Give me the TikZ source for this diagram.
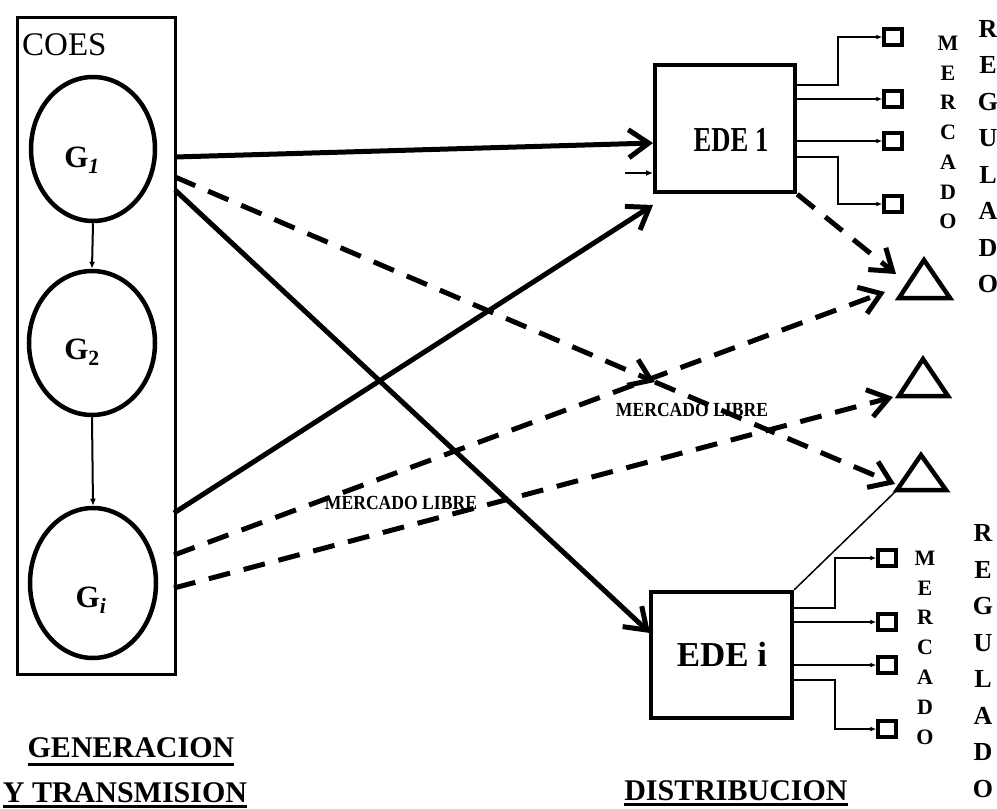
\documentclass[tikz,border=0pt]{standalone}
\usepackage{fontspec}
\setmainfont{Liberation Serif}
\usetikzlibrary{arrows.meta,shapes.geometric}
\newcommand\myul[2][-9pt]{\setbox0\hbox{#2}\rlap{\rule[#1]{\wd0}{3pt}}\box0}
\begin{document}
\begin{tikzpicture}[x=1pt,y=-1pt,
  mycoes/.style={draw, line width=3pt, inner sep=0pt},
  mygen/.style={draw, ellipse, line width=4.5pt, inner sep=0pt},
  mygl/.style={font=\fontsize{31}{34}\selectfont\bfseries, inner sep=0pt},
  myede/.style={draw, line width=4.5pt, inner sep=0pt},
  myedel/.style={font=\fontsize{35}{40}\selectfont\bfseries, inner sep=0pt},
  mysq/.style={draw, line width=3.5pt, minimum width=18pt, minimum height=16pt, inner sep=0pt},
  myarrow/.style={line width=5pt, -{Straight Barb[length=20pt,width=28pt]}},
  mydashed/.style={line width=5pt, dash pattern=on 22pt off 14pt, -{Straight Barb[length=20pt,width=28pt]}},
  mythin/.style={line width=2pt, -{Latex[length=7pt,width=6pt]}},
  myout/.style={line width=2pt, -{Latex[length=6pt,width=5pt]}},
  mytri/.style={line width=4.5pt, line join=miter},
  mylibre/.style={font=\fontsize{20}{24}\selectfont\bfseries, inner sep=0pt},
  mybig/.style={font=\fontsize{30}{36}\selectfont\bfseries, inner sep=0pt, anchor=base},
  myvm/.style={font=\fontsize{22}{29.8}\selectfont\bfseries, align=center, inner sep=0pt},
  myvr/.style={font=\fontsize{26}{36.5}\selectfont\bfseries, align=center, inner sep=0pt}
]
\useasboundingbox (0,0) rectangle (997,809);

% COES block
\node[mycoes, minimum width=158pt, minimum height=657pt, anchor=north west] (coes) at (16,16) {};
\node[anchor=base west, font=\fontsize{33}{40}\selectfont, inner sep=0pt] (coestxt) at (22,55) {COES};

\node[mygen, minimum width=124pt, minimum height=144pt] (g1) at (93,149) {};
\node[mygen, minimum width=126pt, minimum height=144pt] (g2) at (92,343) {};
\node[mygen, minimum width=126pt, minimum height=150pt] (gi) at (93,583) {};
\node[mygl] (g1t) at (82,160) {G\textsubscript{\itshape 1}};
\node[mygl] (g2t) at (82,352) {G\textsubscript{2}};
\node[mygl] (git) at (91,600) {G\textsubscript{\itshape i}};

\draw[mythin] (g1.south) -- (g2.north);
\draw[mythin] (g2.south) -- (gi.north);

% EDE boxes
\node[myede, minimum width=140pt, minimum height=127pt] (ede1) at (725,128.5) {};
\node[myede, minimum width=141pt, minimum height=126pt] (edei) at (721.5,655) {};
\node[myedel] (ede1t) at (731,140) {\scalebox{0.76}[1]{EDE 1}};
\node[myedel] (edeit) at (722,654) {EDE i};

% ports
\coordinate (a1) at (175,157);
\coordinate (a2) at (175,177);
\coordinate (a3) at (175,190);
\coordinate (c1) at (174,513);
\coordinate (c2) at (174,555);
\coordinate (c3) at (174,588);
\coordinate (e1in) at (653,143);
\coordinate (e1low) at (653,205);
\coordinate (eiin) at (650,633);
\coordinate (freein) at (625,173);
\coordinate (e1side) at (653,173);
\coordinate (mid) at (655,382);
\coordinate (t1in) at (896,274);
\coordinate (t1in2) at (885,292);
\coordinate (t2in) at (893,397);
\coordinate (t3in) at (895,484);
\coordinate (t3base) at (897,490);

% solid arrows
\draw[myarrow] (a1) -- (e1in);
\draw[myarrow] (a3) -- (eiin);
\draw[myarrow] (c1) -- (e1low);
\draw[mythin] (freein) -- (e1side);

% dashed arrows
\draw[mydashed] (a2) -- (mid);
\draw[mydashed] (mid) -- (t3in);
\draw[mydashed] (c2) -- (t1in2);
\draw[mydashed] (c3) -- (t2in);
\draw[mydashed] (ede1.south east) -- (t1in);
\draw[line width=1.5pt] (edei.north east) -- (t3base);

% triangles
\draw[mytri] (899,298) -- (924,260) -- (950,298) -- cycle;
\draw[mytri] (899,396) -- (923,359) -- (948,396) -- cycle;
\draw[mytri] (897,490) -- (921,455) -- (946,490) -- cycle;

% regulated market squares (EDE 1)
\node[mysq] (s11) at (893,37) {};
\node[mysq] (s12) at (893,99) {};
\node[mysq] (s13) at (893,141) {};
\node[mysq] (s14) at (893,204) {};
\draw[myout] (795,85) -- (838,85) -- (838,37) -- (s11.west);
\draw[myout] (795,99) -- (s12.west);
\draw[myout] (795,141) -- (s13.west);
\draw[myout] (795,157) -- (838,157) -- (838,204) -- (s14.west);

% regulated market squares (EDE i)
\node[mysq] (s21) at (887,558) {};
\node[mysq] (s22) at (887,622) {};
\node[mysq] (s23) at (887,665) {};
\node[mysq] (s24) at (887,729) {};
\draw[myout] (792,608) -- (835,608) -- (835,558) -- (s21.west);
\draw[myout] (792,622) -- (s22.west);
\draw[myout] (792,665) -- (s23.west);
\draw[myout] (792,680) -- (835,680) -- (835,729) -- (s24.west);

% labels
\node[mylibre] (ml1) at (401,503) {\scalebox{0.88}[1]{MERCADO LIBRE}};
\node[mylibre] (ml2) at (692,410) {\scalebox{0.88}[1]{MERCADO LIBRE}};

\node[myvm] (vm1) at (948,132.5) {M\\E\\R\\C\\A\\D\\O};
\node[myvr] (vr1) at (988,156.5) {R\\E\\G\\U\\L\\A\\D\\O};
\node[myvm] (vm2) at (925,647.5) {M\\E\\R\\C\\A\\D\\O};
\node[myvr] (vr2) at (983,661) {R\\E\\G\\U\\L\\A\\D\\O};

\node[mybig] (gen) at (131,757) {\myul{GENERACION}};
\node[mybig] (ytr) at (125,802) {\myul[-6pt]{Y TRANSMISION}};
\node[mybig] (dis) at (736,800) {\myul[-6pt]{DISTRIBUCION}};
\end{tikzpicture}
\end{document}
